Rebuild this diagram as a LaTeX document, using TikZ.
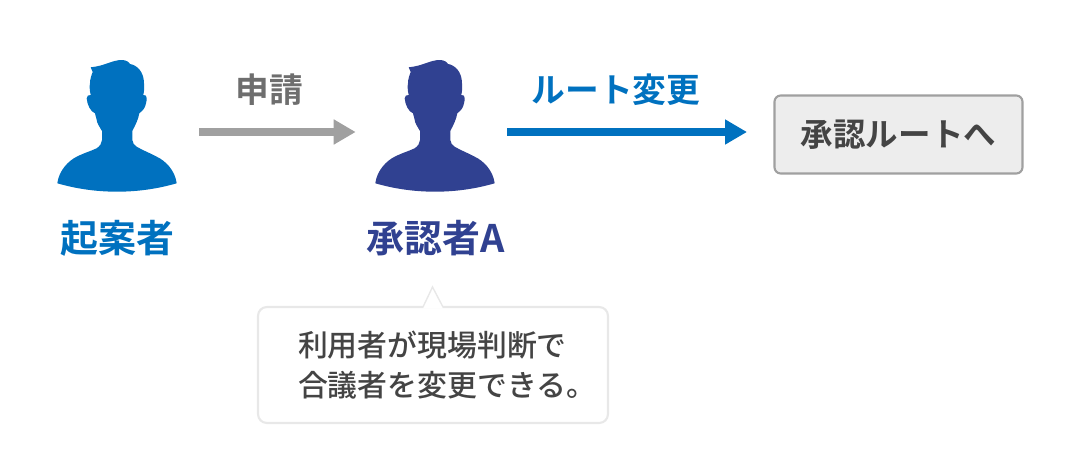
\documentclass[tikz,border=0pt]{standalone}
\usepackage{fontspec}
\setmainfont{Noto Sans CJK JP Medium}
\newfontfamily\labelfont{Noto Sans CJK JP Bold}
\usetikzlibrary{arrows.meta}

\definecolor{starter}{HTML}{0071BF}
\definecolor{approver}{HTML}{304191}
\definecolor{arrowgray}{HTML}{A0A0A0}
\definecolor{applytext}{HTML}{6E6E6E}
\definecolor{darktext}{HTML}{444444}

\tikzset{
    person/.pic={
        \fill [#1] (-26.3,-64.7) .. controls (-12,-66) and (-5,-72) .. (4.7,-72)
            .. controls (9,-72) and (12,-70) .. (13,-68)
            .. controls (20,-67) and (27,-60) .. (27,-48.7)
            .. controls (27.5,-44) and (27,-40) .. (26.3,-37)
            .. controls (28.5,-37.5) and (29.7,-36) .. (29.7,-33.7)
            .. controls (29.7,-30) and (28.5,-27) .. (28,-25.3)
            .. controls (26.5,-22) and (24,-20) .. (22.3,-18.7)
            .. controls (21.5,-13) and (18,-6) .. (15.3,-1)
            -- (15.3,8)
            .. controls (15.5,11) and (17.5,13.5) .. (19.7,14.7)
            .. controls (26,18.5) and (33,21) .. (39.7,24.7)
            .. controls (48,28.5) and (58,38) .. (59.7,51.3)
            .. controls (40,57) and (20,59.7) .. (0,59.7)
            .. controls (-20,59.7) and (-40,57) .. (-59.7,51.3)
            .. controls (-58,38) and (-48,28.5) .. (-40.3,24.7)
            .. controls (-33,21) and (-26,19) .. (-20.3,16.3)
            .. controls (-17,14) and (-15,11) .. (-15,8)
            -- (-15,-1)
            .. controls (-18,-6) and (-20,-9) .. (-20.3,-12)
            -- (-22,-18.7)
            .. controls (-26,-20) and (-30,-27) .. (-30.3,-33.7)
            .. controls (-30.3,-36) and (-28.5,-37.5) .. (-26.3,-37)
            .. controls (-27.5,-42) and (-27.5,-46) .. (-27,-48.7)
            .. controls (-27,-53) and (-25.5,-57) .. (-24.3,-60)
            -- cycle;
    },
    figure/.style={minimum width=2.4cm,minimum height=2.4cm,inner sep=0},
    name label/.style={inner sep=0,font=\labelfont\fontsize{21.6}{24}\selectfont},
    arrow label/.style={inner sep=0,font=\labelfont\fontsize{19.2}{22}\selectfont},
    flow/.style={line width=4.6pt,-{Triangle[length=12.5pt,width=13.5pt]}},
}

\begin{document}
\begin{tikzpicture}[x=0.02cm,y=-0.02cm]
    \useasboundingbox (0,0) rectangle (1080,470);
    \node (starter_fig) [figure] at (117,132) {};
    \node (approver_fig) [figure] at (435,132) {};
    \pic at (starter_fig.center) {person=starter};
    \pic at (approver_fig.center) {person=approver};
    \node (starter_name) [name label,text=starter] at (117.5,238) {起案者};
    \node (approver_name) [name label,text=approver] at (436,238) {承認者A};
    \node (apply) [arrow label,text=applytext] at (269.5,90) {申請};
    \node (change) [arrow label,text=starter] at (616,90) {ルート変更};
    \node (route) [draw=arrowgray,fill=black!7,line width=1.2pt,rounded corners=3.5pt,
        minimum width=4.96cm,minimum height=1.56cm,inner sep=0,text=darktext,
        font=\labelfont\fontsize{18.5}{22}\selectfont] at (898.5,134.5) {承認ルートへ};
    \coordinate (change_start) at (507,132);
    \coordinate (change_end) at (747,132);
    \draw [flow,arrowgray,shorten <=12.5pt,shorten >=10.8pt] (starter_fig.east) -- (approver_fig.west);
    \draw [flow,starter] (change_start) -- (change_end);
    \node (note) [draw=black!9,fill=white,line width=1.2pt,rounded corners=5pt,
        minimum width=7cm,minimum height=2.32cm,inner sep=0,text=darktext,align=left,text width=5.4cm,
        font=\fontsize{17}{22.8}\selectfont] at (433,365) {利用者が現場判断で\\合議者を変更できる。};
    \fill [white] (423,308.5) -- (432.5,287) -- (443,308.5) -- cycle;
    \draw [black!9,line width=0.8pt] (423,307) -- (432.5,287) -- (443,307);
\end{tikzpicture}
\end{document}
